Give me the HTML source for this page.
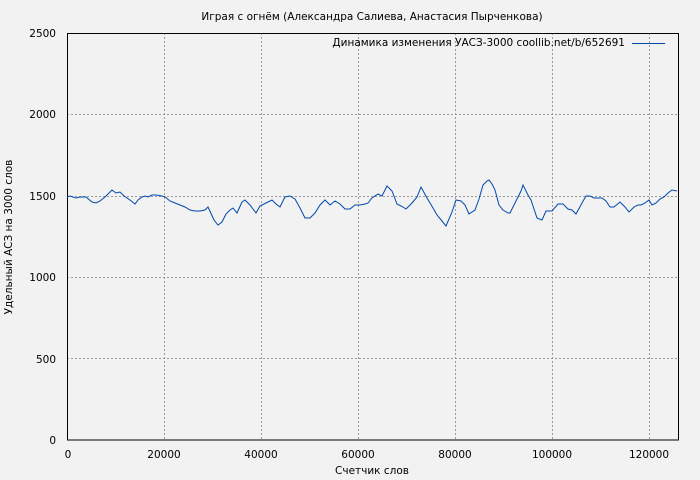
<!DOCTYPE html><html><head><meta charset="utf-8"><style>body{margin:0;background:#f2f2f2}svg{display:block}text{font-family:"DejaVu Sans",sans-serif;fill:#000}</style></head><body>
<svg width="700" height="480" viewBox="0 0 700 480">
<rect width="700" height="480" fill="#f2f2f2"/>
<text x="372" y="20" font-size="10.5" text-anchor="middle">Играя с огнём (Александра Салиева, Анастасия Пырченкова)</text>
<g stroke="#999" stroke-dasharray="2,2" stroke-width="1">
<line x1="164.5" y1="33" x2="164.5" y2="440"/><line x1="261.5" y1="33" x2="261.5" y2="440"/><line x1="358.5" y1="33" x2="358.5" y2="440"/><line x1="455.5" y1="33" x2="455.5" y2="440"/><line x1="552.5" y1="33" x2="552.5" y2="440"/><line x1="649.5" y1="33" x2="649.5" y2="440"/>
<line x1="67" y1="358.5" x2="678" y2="358.5"/><line x1="67" y1="277.5" x2="678" y2="277.5"/><line x1="67" y1="196.5" x2="678" y2="196.5"/><line x1="67" y1="114.5" x2="678" y2="114.5"/>
</g>
<rect x="67.5" y="33.5" width="611" height="406.5" fill="none" stroke="#000"/>
<g font-size="10.5" text-anchor="end">
<text x="56" y="444">0</text><text x="56" y="363">500</text><text x="56" y="281">1000</text><text x="56" y="200">1500</text><text x="56" y="118">2000</text><text x="56" y="37">2500</text></g>
<g font-size="10.5" text-anchor="middle">
<text x="68" y="458">0</text><text x="164" y="458">20000</text><text x="261" y="458">40000</text><text x="358" y="458">60000</text><text x="455" y="458">80000</text><text x="552" y="458">100000</text><text x="649" y="458">120000</text></g>
<text x="372" y="474" font-size="10.5" text-anchor="middle">Счетчик слов</text>
<text transform="translate(12,237) rotate(-90)" font-size="10.5" text-anchor="middle">Удельный АСЗ на 3000 слов</text>
<text x="625" y="46" font-size="10.5" text-anchor="end">Динамика изменения УАСЗ-3000 coollib.net/b/652691</text>
<line x1="632" y1="43.5" x2="665" y2="43.5" stroke="#0047ab"/>
<polyline fill="none" stroke="#0047ab" stroke-width="1" points="67,197 70,196 76,198 80,197 86,197 92,202 96,203 100,201 105,197 110,192 112,190 116,193 120,192 124,196 130,200 135,204 138,200 142,197 145,196 148,197 152,195 156,195 162,196 165,197 170,201 175,203 180,205 185,207 190,210 195,211 200,211 205,210 208,207 214,220 218,225 222,222 226,214 230,210 233,208 237,213 242,202 245,200 250,205 253,209 256,213 260,206 266,203 272,200 276,204 280,207 285,197 290,196 295,199 300,208 305,218 310,218 315,213 320,205 325,200 330,205 335,201 340,204 345,209 350,209 355,205 360,205 365,204 368,203 372,198 378,194 382,196 387,186 392,191 397,204 403,207 406,209 412,203 417,197 421,187 427,198 433,208 437,215 442,221 446,226 452,212 456,200 461,201 465,205 469,214 475,210 479,199 483,185 487,181 489,180 492,184 495,190 499,205 503,210 508,213 510,213 515,203 521,191 523,185 528,195 531,200 533,206 537,218 542,220 546,211 552,211 558,204 563,204 568,209 572,210 576,214 582,203 586,196 590,196 594,198 602,198 606,201 610,207 614,207 620,202 625,207 629,212 634,207 638,205 641,205 645,203 649,200 652,205 656,203 660,199 664,197 668,193 672,190 677,191"/>
</svg></body></html>
